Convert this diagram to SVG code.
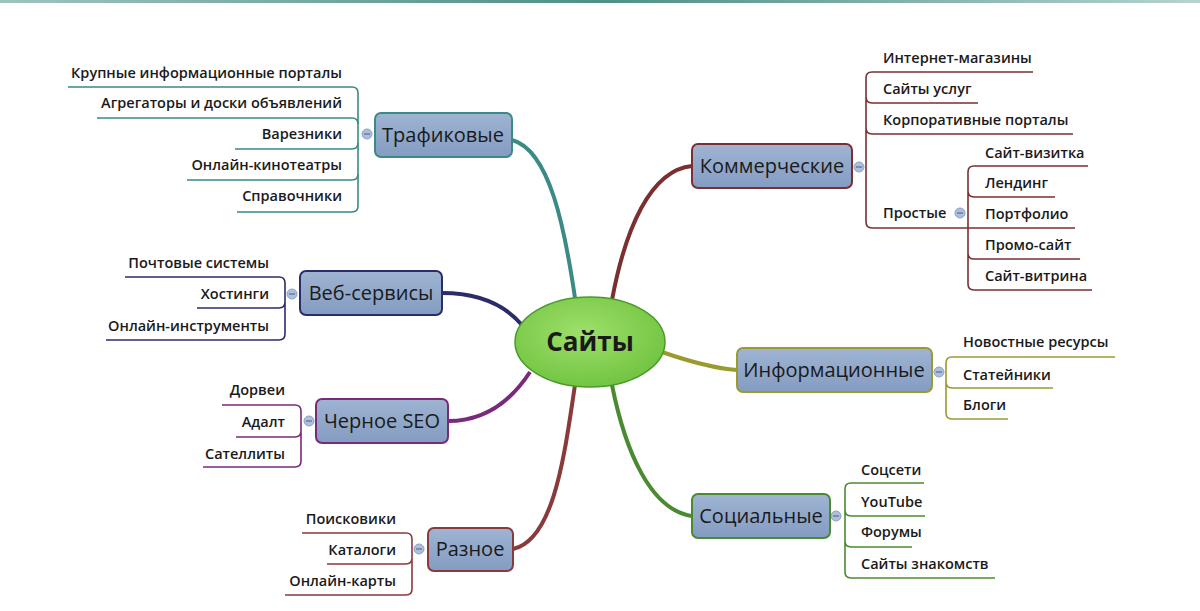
<svg xmlns="http://www.w3.org/2000/svg" width="1200" height="611" viewBox="0 0 1200 611">
<defs>
<linearGradient id="top" x1="0" x2="1"><stop offset="0" stop-color="#9fc4be"/><stop offset="0.5" stop-color="#4f8f86"/><stop offset="1" stop-color="#b6d3cf"/></linearGradient>
<linearGradient id="box" x1="0" y1="0" x2="0" y2="1"><stop offset="0" stop-color="#9fb4d2"/><stop offset="1" stop-color="#849cc2"/></linearGradient>
<radialGradient id="ctr" cx="0.45" cy="0.4" r="0.7"><stop offset="0" stop-color="#9ee06a"/><stop offset="1" stop-color="#6cc03c"/></radialGradient>
</defs>
<style>
text{font-family:"Open Sans","Noto Sans",sans-serif;fill:#1a1a1a}
.lf{font-size:14.5px;font-weight:600}
.nd{font-size:20px}
.bx{fill:url(#box);stroke-width:2}
.ln{fill:none;stroke-width:1.6}
.br{fill:none;stroke-width:4}
.cc{fill:#aebfdc;stroke:#8da1c6;stroke-width:1}
.e{text-anchor:end}
</style>
<rect width="1200" height="611" fill="#fff"/>
<rect width="1200" height="3" fill="url(#top)"/>
<g id="connectors">
<path class="br" stroke="#3a8a86" d="M512,140 C550,150 565,230 575,298"/>
<path class="br" stroke="#2c2c6a" d="M442,293 C480,293 505,305 522,325"/>
<path class="br" stroke="#7a2a7a" d="M448,421 C490,421 515,395 530,372"/>
<path class="br" stroke="#8a3a3a" d="M513,549 C555,540 565,450 575,385"/>
<path class="br" stroke="#7a3030" d="M692,166 C650,170 625,230 612,300"/>
<path class="br" stroke="#9a9a30" d="M737,370 C710,368 685,360 662,352"/>
<path class="br" stroke="#4a8a30" d="M692,516 C650,510 625,450 612,385"/>
<g stroke="#3a8a86" class="ln">
<path d="M68,87 H352 Q358,87 358,93 V206 Q358,212 352,212 H237"/>
<path d="M97,118 H352 Q358,118 358,124 M358,143 Q358,149 352,149 H235 M358,174 Q358,180 352,180 H187" />
</g>
<g stroke="#2c2c6a" class="ln">
<path d="M125,277 H279 Q285,277 285,283 V334 Q285,340 279,340 H106 M285,302 Q285,308 279,308 H197"/>
</g>
<g stroke="#7a2a7a" class="ln">
<path d="M222,405 H295 Q301,405 301,411 V461 Q301,467 295,467 H203 M301,431 Q301,437 295,437 H236"/>
</g>
<g stroke="#8a3a3a" class="ln">
<path d="M302,533 H406 Q412,533 412,539 V589 Q412,595 406,595 H285 M412,558 Q412,564 406,564 H327"/>
</g>
<g stroke="#7a3030" class="ln">
<path d="M1033,72 H872 Q866,72 866,78 V222 Q866,228 872,228 H1075 M866,97 Q866,103 872,103 H978 M866,128 Q866,134 872,134 H1073"/>
<path d="M1088,166 H974 Q968,166 968,172 V284 Q968,290 974,290 H1092 M968,191 Q968,197 974,197 H1055 M968,253 Q968,259 974,259 H1080"/>
</g>
<g stroke="#9a9a30" class="ln">
<path d="M1115,357 H952 Q946,357 946,363 V413 Q946,419 952,419 H1008 M946,382 Q946,388 952,388 H1053"/>
</g>
<g stroke="#4a8a30" class="ln">
<path d="M924,483 H851 Q845,483 845,489 V572 Q845,578 851,578 H995 M845,510 Q845,516 851,516 H925 M845,541 Q845,547 851,547 H912"/>
</g>
<circle class="cc" cx="367" cy="134" r="5"/><circle class="cc" cx="292" cy="294" r="5"/>
<circle class="cc" cx="309" cy="421" r="5"/><circle class="cc" cx="419" cy="549" r="5"/>
<circle class="cc" cx="859" cy="167" r="5"/><circle class="cc" cx="960" cy="213" r="5"/>
<circle class="cc" cx="939" cy="372" r="5"/><circle class="cc" cx="836" cy="516" r="5"/>
<g stroke="#4a5a80" stroke-width="1"><path d="M364,134h6M289,294h6M306,421h6M416,549h6M856,167h6M957,213h6M936,372h6M833,516h6"/></g>
</g>
<g id="center"><ellipse cx="590" cy="342" rx="75" ry="45" fill="url(#ctr)" stroke="#4a9a2a" stroke-width="1.5"/><text x="590" y="351" text-anchor="middle" font-size="26" font-weight="700">Сайты</text></g>
<g id="traf"><rect class="bx" stroke="#3a8a86" x="375" y="113" width="137" height="44" rx="6"/><text class="nd" x="443" y="142" text-anchor="middle">Трафиковые</text>
<text class="lf e" x="342" y="78" fill="#555">Крупные информационные порталы</text>
<text class="lf e" x="342" y="108">Агрегаторы и доски объявлений</text>
<text class="lf e" x="342" y="139">Варезники</text>
<text class="lf e" x="342" y="170">Онлайн-кинотеатры</text>
<text class="lf e" x="342" y="201">Справочники</text></g>
<g id="web"><rect class="bx" stroke="#2c2c6a" x="300" y="271" width="142" height="44" rx="6"/><text class="nd" x="371" y="300" text-anchor="middle">Веб-сервисы</text>
<text class="lf e" x="269" y="268">Почтовые системы</text>
<text class="lf e" x="269" y="299">Хостинги</text>
<text class="lf e" x="269" y="331">Онлайн-инструменты</text></g>
<g id="seo"><rect class="bx" stroke="#7a2a7a" x="316" y="399" width="132" height="44" rx="6"/><text class="nd" x="382" y="428" text-anchor="middle">Черное SEO</text>
<text class="lf e" x="285" y="395">Дорвеи</text>
<text class="lf e" x="285" y="427">Адалт</text>
<text class="lf e" x="285" y="459">Сателлиты</text></g>
<g id="misc"><rect class="bx" stroke="#8a3a3a" x="428" y="528" width="85" height="43" rx="6"/><text class="nd" x="470" y="556" text-anchor="middle">Разное</text>
<text class="lf e" x="396" y="524">Поисковики</text>
<text class="lf e" x="396" y="555">Каталоги</text>
<text class="lf e" x="396" y="586">Онлайн-карты</text></g>
<g id="comm"><rect class="bx" stroke="#7a3030" x="692" y="144" width="160" height="44" rx="6"/><text class="nd" x="772" y="173" text-anchor="middle">Коммерческие</text>
<text class="lf" x="883" y="63">Интернет-магазины</text>
<text class="lf" x="883" y="94">Сайты услуг</text>
<text class="lf" x="883" y="125">Корпоративные порталы</text>
<text class="lf" x="883" y="218">Простые</text>
<text class="lf" x="985" y="158">Сайт-визитка</text>
<text class="lf" x="985" y="188">Лендинг</text>
<text class="lf" x="985" y="219">Портфолио</text>
<text class="lf" x="985" y="250">Промо-сайт</text>
<text class="lf" x="985" y="281">Сайт-витрина</text></g>
<g id="info"><rect class="bx" stroke="#9a9a30" x="737" y="348" width="195" height="44" rx="6"/><text class="nd" x="834" y="377" text-anchor="middle">Информационные</text>
<text class="lf" x="963" y="347">Новостные ресурсы</text>
<text class="lf" x="963" y="380">Статейники</text>
<text class="lf" x="963" y="410">Блоги</text></g>
<g id="soc"><rect class="bx" stroke="#4a8a30" x="692" y="494" width="138" height="44" rx="6"/><text class="nd" x="761" y="523" text-anchor="middle">Социальные</text>
<text class="lf" x="861" y="475">Соцсети</text>
<text class="lf" x="861" y="507">YouTube</text>
<text class="lf" x="861" y="537">Форумы</text>
<text class="lf" x="861" y="569">Сайты знакомств</text></g>
</svg>
